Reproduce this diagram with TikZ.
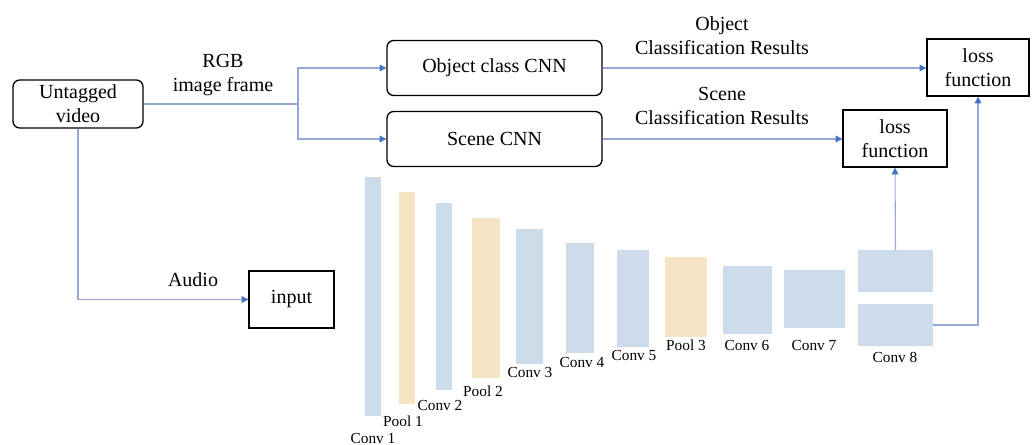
\documentclass[tikz,border=0pt]{standalone}
\usepackage{fontspec}
\setmainfont{Liberation Serif}
\usetikzlibrary{arrows.meta}

\definecolor{linecol}{RGB}{150,168,214}
\definecolor{tipcol}{RGB}{68,114,196}
\definecolor{convcol}{RGB}{204,220,234}
\definecolor{poolcol}{RGB}{245,229,197}

\tikzset{
  rbox/.style 2 args={draw=black, line width=1pt, rounded corners=5pt,
    minimum width=#1*0.75pt, minimum height=#2*0.75pt, align=center,
    font=\fontsize{15}{18}\selectfont, inner sep=0pt},
  sbox/.style 2 args={draw=black, line width=1pt,
    minimum width=#1*0.75pt, minimum height=#2*0.75pt, align=center,
    font=\fontsize{15}{18}\selectfont, inner sep=0pt},
  layer/.style 2 args={anchor=north west, inner sep=0pt, outer sep=0pt,
    minimum width=#1*0.75pt, minimum height=#2*0.75pt},
  convbar/.style 2 args={layer={#1}{#2}, fill=convcol},
  poolbar/.style 2 args={layer={#1}{#2}, fill=poolcol},
  lbl/.style={font=\fontsize{15}{18}\selectfont, align=center, inner sep=0pt},
  barlbl/.style={font=\fontsize{11.5}{13}\selectfont, inner sep=0pt},
  conn/.style={draw=linecol, line width=0.8pt},
  arr/.style={conn, -{Triangle[length=5pt,width=5pt,color=tipcol]}},
}

\begin{document}
\begin{tikzpicture}[x=0.75pt, y=-0.75pt]
\useasboundingbox (0,0) rectangle (1035,445);

% main blocks
\node[rbox={130}{48}] (video) at (78,104) {Untagged\\video};
\node[rbox={215}{55}] (obj) at (494.5,68) {Object class CNN};
\node[rbox={215}{55}] (scene) at (494.5,139) {Scene CNN};
\node[sbox={102}{57}] (lossA) at (978,67.5) {loss\\function};
\node[sbox={104}{57}] (lossB) at (895,138.5) {loss\\function};
\node[sbox={85}{57}] (input) at (291.5,299.5) {input};

% edge labels
\node[lbl] (rgb) at (223,75.5) {RGB\\image frame};
\node[lbl] (objres) at (722,35.5) {Object\\Classification Results};
\node[lbl] (sceneres) at (722,105.5) {Scene\\Classification Results};
\node[lbl] (audio) at (193,280) {Audio};

% network layers
\node[convbar={16}{239}] (c1) at (365,177) {};
\node[poolbar={16}{212}] (p1) at (399,192) {};
\node[convbar={16}{187}] (c2) at (436,203) {};
\node[poolbar={28}{160}] (p2) at (472,218) {};
\node[convbar={27}{135}] (c3) at (516,229) {};
\node[convbar={28}{110}] (c4) at (566,243) {};
\node[convbar={32}{97}] (c5) at (617,250) {};
\node[poolbar={42}{80}] (p3) at (665,257) {};
\node[convbar={49}{68}] (c6) at (723,266) {};
\node[convbar={61}{58}] (c7) at (784,270) {};
\node[convbar={75}{42}] (c8a) at (858,250) {};
\node[convbar={75}{42}] (c8b) at (858,304) {};

% layer names
\node[barlbl] (lc1) at (373,438) {Conv 1};
\node[barlbl] (lp1) at (403,421) {Pool 1};
\node[barlbl] (lc2) at (440,405) {Conv 2};
\node[barlbl] (lp2) at (483,391) {Pool 2};
\node[barlbl] (lc3) at (530,372) {Conv 3};
\node[barlbl] (lc4) at (582,362) {Conv 4};
\node[barlbl] (lc5) at (634,355) {Conv 5};
\node[barlbl] (lp3) at (686,345) {Pool 3};
\node[barlbl] (lc6) at (747,345) {Conv 6};
\node[barlbl] (lc7) at (814,345) {Conv 7};
\node[barlbl] (lc8) at (895,357) {Conv 8};

% connectors
\coordinate (split) at (298,104);
\draw[conn] (video.east) -- (split);
\draw[arr] (split) |- (obj.west);
\draw[arr] (split) |- (scene.west);
\draw[arr] (video.south) |- (input.west);
\draw[arr] (obj.east) -- (obj.east -| lossA.west);
\draw[arr] (scene.east) -- (scene.east -| lossB.west);
\draw[arr] (c8a.north) -- (lossB.south);
\draw[arr] (c8b.east) -| (lossA.south);
\end{tikzpicture}
\end{document}
